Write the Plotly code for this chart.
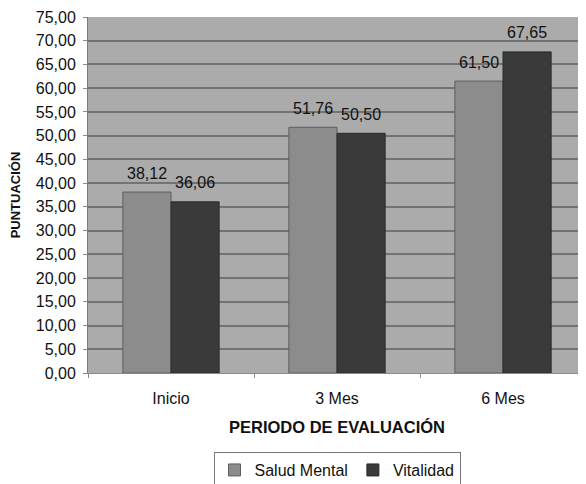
import plotly.graph_objects as go

categories = ["Inicio", "3 Mes", "6 Mes"]
salud_mental = [38.12, 51.76, 61.50]
vitalidad = [36.06, 50.50, 67.65]
y_ticks = [0, 5, 10, 15, 20, 25, 30, 35, 40, 45, 50, 55, 60, 65, 70, 75]

font_family = "Liberation Sans, Arial, sans-serif"
FS = 16

def fmt(v):
    return f"{v:.2f}".replace(".", ",")

fig = go.Figure()
fig.add_trace(go.Bar(
    name="Salud Mental", x=categories, y=salud_mental,
    marker=dict(color="#8c8c8c", line=dict(color="#5e5e5e", width=1)),
))
fig.add_trace(go.Bar(
    name="Vitalidad", x=categories, y=vitalidad,
    marker=dict(color="#3a3a3a", line=dict(color="#2a2a2a", width=1)),
))

# data labels above each bar
for series, shift in ((salud_mental, -24), (vitalidad, 24)):
    for cat, val in zip(categories, series):
        fig.add_annotation(
            x=cat, y=val, text=fmt(val), showarrow=False,
            xshift=shift, yshift=19, yanchor="middle",
            font=dict(size=FS, color="#111111", family=font_family),
        )

# the page adds an 8px body margin, so the figure is sized to fit the window
fig.update_layout(
    width=578, height=476,
    margin=dict(l=80, r=0, t=9, b=111, autoexpand=False),
    paper_bgcolor="white",
    plot_bgcolor="#ababab",
    separators=",.",
    font=dict(family=font_family, size=FS, color="#111111"),
    barmode="group", bargap=0.42, bargroupgap=0,
    showlegend=True,
    legend=dict(
        orientation="h", x=0.5, xanchor="center", y=-0.222, yanchor="top",
        bordercolor="#777777", borderwidth=1, bgcolor="white",
        font=dict(size=FS, family=font_family), itemwidth=30,
        tracegroupgap=0, traceorder="normal",
    ),
    xaxis=dict(
        automargin=False,
        showgrid=False, showline=True, linecolor="#8a8a8a", linewidth=1,
        ticks="outside", tickson="boundaries", ticklen=4, tickcolor="#8a8a8a",
        ticklabelstandoff=11,
        tickfont=dict(size=FS),
        title=dict(text="<b>PERIODO DE EVALUACIÓN</b>", standoff=15, font=dict(size=16.5)),
    ),
    yaxis=dict(
        automargin=False,
        range=[0, 75], tickvals=y_ticks, tickformat=".2f",
        showgrid=True, gridcolor="#737373", gridwidth=1.5,
        showline=True, linecolor="#7a7a7a", linewidth=1,
        ticks="outside", ticklen=4, tickcolor="#8a8a8a",
        ticklabelstandoff=4,
        tickfont=dict(size=FS),
        title=dict(text="<b>PUNTUACIÓN</b>", standoff=12, font=dict(size=13)),
        zeroline=False,
    ),
)

fig.write_html("out.html")
